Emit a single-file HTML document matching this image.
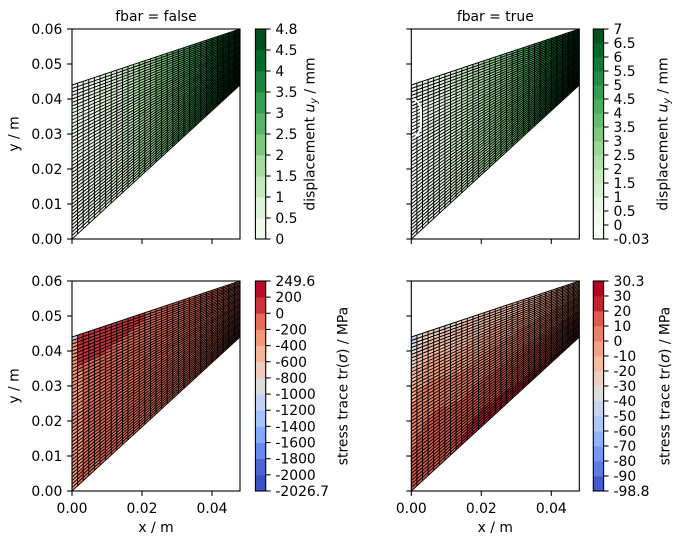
<!DOCTYPE html>
<html><head><meta charset="utf-8">
<style>
html,body{margin:0;padding:0;background:#fff;}
svg{display:block;}
text{font-family:"DejaVu Sans","Liberation Sans",sans-serif;font-size:13.9px;fill:#000;}
</style></head>
<body>
<svg id="s" width="685" height="547" viewBox="0 0 685 547" xmlns="http://www.w3.org/2000/svg">
<rect x="0" y="0" width="685" height="547" fill="#fff"/>
<g id="g"></g>
<g id="txt">
<text x="156" y="21" text-anchor="middle">fbar = false</text>
<text x="495.3" y="21" text-anchor="middle">fbar = true</text>

<g text-anchor="end">
<text x="62.3" y="244">0.00</text><text x="62.3" y="209">0.01</text><text x="62.3" y="174">0.02</text><text x="62.3" y="139">0.03</text><text x="62.3" y="104">0.04</text><text x="62.3" y="69">0.05</text><text x="62.3" y="34">0.06</text>
<text x="62.3" y="496">0.00</text><text x="62.3" y="461">0.01</text><text x="62.3" y="426">0.02</text><text x="62.3" y="391">0.03</text><text x="62.3" y="356">0.04</text><text x="62.3" y="321">0.05</text><text x="62.3" y="286">0.06</text>
</g>
<g text-anchor="middle">
<text x="72" y="513">0.00</text><text x="142" y="513">0.02</text><text x="212" y="513">0.04</text>
<text x="411.3" y="513">0.00</text><text x="481.3" y="513">0.02</text><text x="551.3" y="513">0.04</text>
<text x="156" y="532">x / m</text><text x="495.3" y="532">x / m</text>
</g>
<text transform="translate(18.4,134) rotate(-90)" text-anchor="middle">y / m</text>
<text transform="translate(18.4,386) rotate(-90)" text-anchor="middle">y / m</text>

<text transform="translate(314.5,134) rotate(-90)" text-anchor="middle">displacement <tspan font-style="italic">u</tspan><tspan font-style="italic" font-size="9.7" dy="2.6">y</tspan><tspan dy="-2.6"> / mm</tspan></text>
<text transform="translate(667.5,134) rotate(-90)" text-anchor="middle">displacement <tspan font-style="italic">u</tspan><tspan font-style="italic" font-size="9.7" dy="2.6">y</tspan><tspan dy="-2.6"> / mm</tspan></text>
<text transform="translate(347.5,386) rotate(-90)" text-anchor="middle">stress trace tr(<tspan font-style="italic">σ</tspan>) / MPa</text>
<text transform="translate(669.5,386) rotate(-90)" text-anchor="middle">stress trace tr(<tspan font-style="italic">σ</tspan>) / MPa</text>

<g>
<text x="275.4" y="244">0</text><text x="275.4" y="223">0.5</text><text x="275.4" y="202">1</text><text x="275.4" y="181">1.5</text><text x="275.4" y="160">2</text><text x="275.4" y="139">2.5</text><text x="275.4" y="118">3</text><text x="275.4" y="97">3.5</text><text x="275.4" y="76">4</text><text x="275.4" y="55">4.5</text><text x="275.4" y="34">4.8</text>
</g>
<g>
<text x="613.5" y="244">-0.03</text><text x="613.5" y="230">0</text><text x="613.5" y="216">0.5</text><text x="613.5" y="202">1</text><text x="613.5" y="188">1.5</text><text x="613.5" y="174">2</text><text x="613.5" y="160">2.5</text><text x="613.5" y="146">3</text><text x="613.5" y="132">3.5</text><text x="613.5" y="118">4</text><text x="613.5" y="104">4.5</text><text x="613.5" y="90">5</text><text x="613.5" y="76">5.5</text><text x="613.5" y="62">6</text><text x="613.5" y="48">6.5</text><text x="613.5" y="34">7</text>
</g>
<g>
<text x="275.4" y="496">-2026.7</text><text x="275.4" y="479.85">-2000</text><text x="275.4" y="463.69">-1800</text><text x="275.4" y="447.54">-1600</text><text x="275.4" y="431.38">-1400</text><text x="275.4" y="415.23">-1200</text><text x="275.4" y="399.08">-1000</text><text x="275.4" y="382.92">-800</text><text x="275.4" y="366.77">-600</text><text x="275.4" y="350.62">-400</text><text x="275.4" y="334.46">-200</text><text x="275.4" y="318.31">0</text><text x="275.4" y="302.15">200</text><text x="275.4" y="286">249.6</text>
</g>
<g>
<text x="613.5" y="496">-98.8</text><text x="613.5" y="481">-90</text><text x="613.5" y="466">-80</text><text x="613.5" y="451">-70</text><text x="613.5" y="436">-60</text><text x="613.5" y="421">-50</text><text x="613.5" y="406">-40</text><text x="613.5" y="391">-30</text><text x="613.5" y="376">-20</text><text x="613.5" y="361">-10</text><text x="613.5" y="346">0</text><text x="613.5" y="331">10</text><text x="613.5" y="316">20</text><text x="613.5" y="301">30</text><text x="613.5" y="286">30.3</text>
</g>
</g>
</svg>
<script>
(function(){
const NS="http://www.w3.org/2000/svg";
const G=document.getElementById('g');
function el(t,a,p){const e=document.createElementNS(NS,t);for(const k in a)e.setAttribute(k,a[k]);(p||G).appendChild(e);return e;}
function cmapCol(anchors,t){t=Math.max(0,Math.min(1,t));const n=anchors.length-1;const f=t*n;let i=Math.floor(f);if(i>=n)i=n-1;const u=f-i;const a=anchors[i],b=anchors[i+1];return 'rgb('+[0,1,2].map(k=>Math.round(a[k]+(b[k]-a[k])*u)).join(',')+')';}
const greens=[[247,252,245],[229,245,224],[199,233,192],[161,217,155],[116,196,118],[65,171,93],[35,139,69],[0,109,44],[0,68,27]];
const coolwarm=[[59,76,192],[98,130,234],[141,176,254],[184,208,249],[221,221,221],[245,196,173],[244,154,123],[222,96,77],[180,4,38]];
function binColors(lev,cm){const c=[];const lo=lev[0],hi=lev[lev.length-1];for(let i=0;i<lev.length-1;i++){const m=(lev[i]+lev[i+1])/2;c.push(cmapCol(cm,(m-lo)/(hi-lo)));}return c;}
function binOf(lev,v){for(let i=lev.length-2;i>=0;i--){if(v>=lev[i])return i;}return 0;}
const TL=[0,0.5,1,1.5,2,2.5,3,3.5,4,4.5,4.8];
const TR=[-0.03,0,0.5,1,1.5,2,2.5,3,3.5,4,4.5,5,5.5,6,6.5,7];
const BL=[-2026.7,-2000,-1800,-1600,-1400,-1200,-1000,-800,-600,-400,-200,0,200,249.6];
const BR=[-98.8,-90,-80,-70,-60,-50,-40,-30,-20,-10,0,10,20,30,30.3];
const S=3500,NX=30,NY=44;
function node(X0,Yb,xi,eta){const x=0.048*xi;const y=0.044*xi+eta*(0.044-0.028*xi);return [X0+S*x,Yb-S*y];}
function fTL(xi,eta){return 4.8*(0.6*xi+0.4*xi*xi);}
function fTR(xi,eta){return 7*(0.6*xi+0.4*xi*xi);}
function fBL(xi,eta){
  let v=-100;
  if(eta>0.8+0.6*Math.max(0,xi-0.2) && xi<0.42) v=100;
  if(xi<1/30){v=-300; if(eta>0.97) v=-1100;}
  else if(xi<2/30 && eta>0.1 && eta<0.75) v=-300;
  return v;
}
function fBR(xi,eta){
  const p=3-1.7*Math.min(xi/0.3,1);
  const top=-28+20*xi-40*Math.exp(-xi/0.025);
  const bot=11+13*Math.min(xi/0.4,1)-4*Math.max(0,(xi-0.4)/0.6);
  return bot+(top-bot)*Math.pow(eta,p);
}
function plot(X0,Yb,f,lev,cm,id){
  const cols=binColors(lev,cm);
  const cp=el('clipPath',{id:id});
  el('rect',{x:X0,y:Yb-210,width:168,height:210},cp);
  const g=el('g',{'clip-path':'url(#'+id+')'});
  for(let i=0;i<NX;i++){
    for(let j=0;j<NY;j++){
      const a=node(X0,Yb,i/NX,j/NY),b=node(X0,Yb,(i+1)/NX,j/NY),c=node(X0,Yb,(i+1)/NX,(j+1)/NY),d=node(X0,Yb,i/NX,(j+1)/NY);
      const col=cols[binOf(lev,f((i+0.5)/NX,(j+0.5)/NY))];
      el('polygon',{points:[a,b,c,d].map(p=>p[0].toFixed(2)+','+p[1].toFixed(2)).join(' '),fill:col,stroke:col,'stroke-width':0.4},g);
    }
  }
  const lg=el('g',{stroke:'#000','stroke-width':0.95},g);
  for(let i=0;i<=NX;i++){const a=node(X0,Yb,i/NX,0),b=node(X0,Yb,i/NX,1);el('line',{x1:a[0],y1:a[1],x2:b[0],y2:b[1]},lg);}
  for(let j=0;j<=NY;j++){const a=node(X0,Yb,0,j/NY),b=node(X0,Yb,1,j/NY);el('line',{x1:a[0],y1:a[1],x2:b[0],y2:b[1]},lg);}
  return g;
}
function axes(X0,Yb){
  const g=el('g',{stroke:'#000','stroke-width':1.1,fill:'none'});
  el('rect',{x:X0,y:Yb-210,width:168,height:210},g);
  for(let k=0;k<3;k++){const x=X0+70*k;el('line',{x1:x,y1:Yb,x2:x,y2:Yb+4.9},g);}
  for(let k=0;k<7;k++){const y=Yb-35*k;el('line',{x1:X0,y1:y,x2:X0-4.9,y2:y},g);}
}
function cbar(x,Yb,lev,cm){
  const cols=binColors(lev,cm);const n=lev.length-1;const h=210/n;const w=10.3;
  for(let k=0;k<n;k++){el('rect',{x:x,y:Yb-(k+1)*h,width:w,height:h+0.4,fill:cols[k]});}
  const g=el('g',{stroke:'#000','stroke-width':1.1,fill:'none'});
  el('rect',{x:x,y:Yb-210,width:w,height:210},g);
  for(let k=0;k<=n;k++){const y=Yb-k*h;el('line',{x1:x+w,y1:y,x2:x+w+4.9,y2:y},g);}
}
plot(72,239,fTL,TL,greens,'c1');
const g2=plot(411.3,239,fTR,TR,greens,'c2');
el('path',{d:'M413 99 Q421 102 421 112 L421 127 Q419 134 414 138',stroke:'#fff','stroke-width':2,fill:'none'},g2);
plot(72,491,fBL,BL,coolwarm,'c3');
plot(411.3,491,fBR,BR,coolwarm,'c4');
axes(72,239);axes(411.3,239);axes(72,491);axes(411.3,491);
cbar(255.4,239,TL,greens);cbar(593.3,239,TR,greens);
cbar(255.4,491,BL,coolwarm);cbar(593.3,491,BR,coolwarm);
})();
</script>
</body></html>
